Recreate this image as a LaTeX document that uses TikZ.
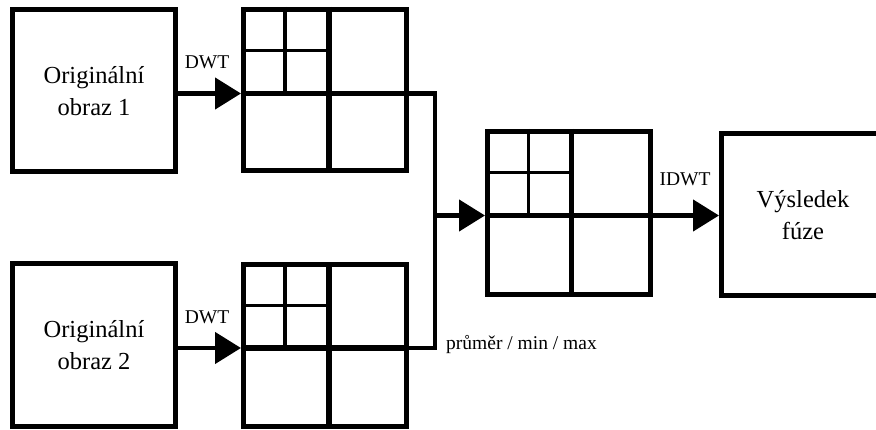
\documentclass[tikz,border=0pt]{standalone}
\usepackage{fontspec}
\setmainfont{Liberation Serif}
\usetikzlibrary{arrows.meta,calc}

\newcommand{\wgrid}[3]{%
  \coordinate (#1-m) at (#2,#3);
  \draw[gthick] (#1.west |- #1-m) -- (#1.east |- #1-m);
  \draw[gthick] (#1-m |- #1.north) -- (#1-m |- #1.south);
  \coordinate (#1-q) at ($(#1.north west)!.5!(#1-m)$);
  \draw[gthin] (#1-q |- #1.north) -- (#1-q |- #1-m);
  \draw[gthin] (#1.west |- #1-q) -- (#1-m |- #1-q);
}

\begin{document}
\begin{tikzpicture}[x=1pt,y=-1pt,
  box/.style={draw, line width=5pt, rectangle, inner sep=0pt, minimum width=163pt, minimum height=162pt, align=center, font=\fontsize{24.5}{32}\selectfont},
  gridbox/.style={draw, line width=5pt, rectangle, inner sep=0pt, minimum width=163pt, minimum height=161pt},
  gthick/.style={line width=5.5pt},
  gthin/.style={line width=3.3pt},
  conn/.style={line width=4.5pt},
  arr/.style={conn, -{Triangle[length=26pt,width=31pt]}},
  lbl/.style={font=\fontsize{19.5}{23}\selectfont, inner sep=0pt}
]
\useasboundingbox (0,0) rectangle (876,430);
\clip (0,0) rectangle (876,430);

\node[box] (img1) at (94,91) {Originální\\obraz 1};
\node[box] (img2) at (94,345) {Originální\\obraz 2};
\node[gridbox] (g1) at (325,90) {};
\node[gridbox] (g2) at (325,345.5) {};
\node[gridbox, minimum height=163pt] (g3) at (569,213) {};
\node[box] (res) at (803,215) {Výsledek\\fúze};

\wgrid{g1}{329}{93.5}
\wgrid{g2}{329}{348}
\wgrid{g3}{571.5}{215.5}

\coordinate (jx) at (435,0);
\draw[conn] (g1.east |- g1-m) -- (jx |- g1-m) -- (jx |- g2-m) -- (g2.east |- g2-m);
\draw[arr] (jx |- g3-m) -- (g3.west |- g3-m);
\draw[arr] (img1.east |- g1-m) -- (g1.west |- g1-m);
\draw[arr] (img2.east |- g2-m) -- (g2.west |- g2-m);
\draw[arr] (g3.east |- g3-m) -- (res.west |- g3-m);

\node[lbl] (dwt1) at (207,62) {DWT};
\node[lbl] (dwt2) at (207,317) {DWT};
\node[lbl] (idwt) at (685,179) {IDWT};
\node[lbl, anchor=base west] (op) at (446,350) {průměr / min / max};
\end{tikzpicture}
\end{document}
